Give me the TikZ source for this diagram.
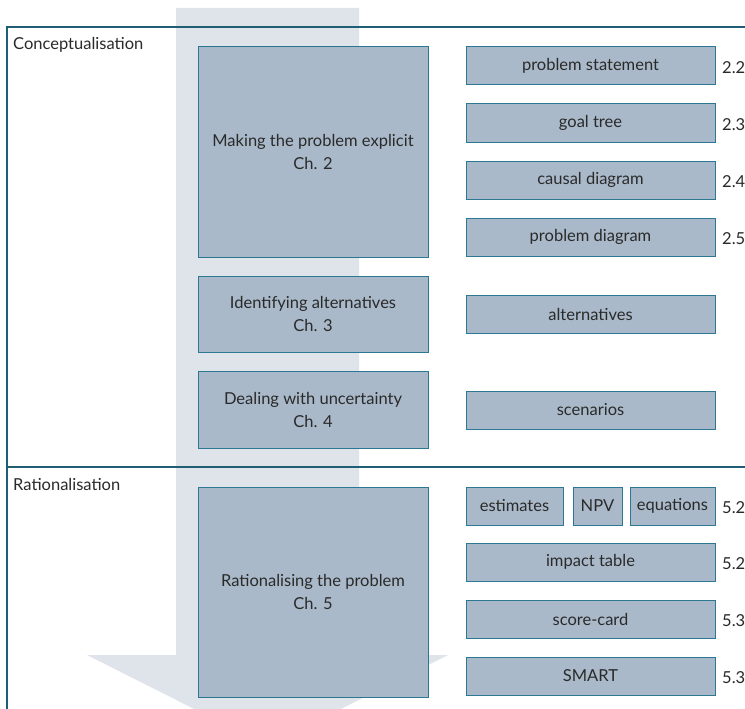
\documentclass[tikz,border=0pt]{standalone}
\usepackage{fontspec}
\setmainfont{Lato}
\usetikzlibrary{positioning}
\definecolor{boxfill}{HTML}{A9B9C9}
\definecolor{boxline}{HTML}{2C7893}
\definecolor{ruleline}{HTML}{1F5F75}
\definecolor{flow}{HTML}{DFE4EB}
\definecolor{ink}{HTML}{2A2A2A}
\tikzstyle{stage} = [rectangle, draw=boxline, fill=boxfill, line width=1pt, minimum width=230pt, align=center, text=ink, font=\fontsize{16.5}{23}\selectfont, inner sep=0pt, outer sep=0pt, anchor=north west]
\tikzstyle{result} = [rectangle, draw=boxline, fill=boxfill, line width=1pt, minimum width=249pt, minimum height=38pt, text=ink, font=\fontsize{16.5}{20}\selectfont, inner sep=0pt, outer sep=0pt]
\tikzstyle{secno} = [text=ink, font=\fontsize{16.5}{20}\selectfont, inner sep=0pt, right=7pt, yshift=-2pt]
\tikzstyle{phase} = [text=ink, font=\fontsize{16.5}{20}\selectfont, inner sep=0pt, anchor=base west]
\tikzstyle{rule} = [ruleline, line width=1.4pt]

\begin{document}
\begin{tikzpicture}[x=1pt, y=-1pt, node distance=19pt]
\useasboundingbox[fill=white] (0,0) rectangle (745,709);

% Flow arrow in the background
\begin{scope}
\clip (0,0) rectangle (745,709);
\fill[flow] (176,8) -- (359,8) -- (359,655) -- (448,655) -- (267.5,746)
  -- (87,655) -- (176,655) -- cycle;
\end{scope}

% Phase frame
\coordinate (topleft) at (7,27);
\coordinate (topright) at (745,27);
\coordinate (midleft) at (7,467);
\coordinate (midright) at (745,467);
\coordinate (bottomleft) at (7,709);
\draw[rule] (topright) -- (topleft) -- (bottomleft);
\draw[rule] (midleft) -- (midright);
\node (concept) [phase] at (13,50) {Conceptualisation};
\node (ration) [phase] at (13,490) {Rationalisation};

% Chapters
\node (explicit) [stage, minimum height=210pt] at (198,47) {Making the problem explicit\\Ch. 2};
\node (altern) [stage, minimum height=76pt] at (198,276) {Identifying alternatives\\Ch. 3};
\node (uncert) [stage, minimum height=77pt] at (198,371) {Dealing with uncertainty\\Ch. 4};
\node (rational) [stage, minimum height=210pt] at (198,487) {Rationalising the problem\\Ch. 5};

% Products of conceptualisation
\node (statement) [result, anchor=north west] at (466,47) {problem statement};
\node (goaltree) [result, below=of statement] {goal tree};
\node (causal) [result, below=of goaltree] {causal diagram};
\node (probdiag) [result, below=of causal] {problem diagram};
\node (alts) [result, anchor=north west] at (466,295) {alternatives};
\node (scen) [result, anchor=north west] at (466,391) {scenarios};

\node [secno] at (statement.east) {2.2};
\node [secno] at (goaltree.east) {2.3};
\node [secno] at (causal.east) {2.4};
\node [secno] at (probdiag.east) {2.5};

% Products of rationalisation
\node (estim) [result, minimum width=97pt, anchor=north west] at (466,487) {estimates};
\node (npv) [result, minimum width=49pt, right=10pt of estim] {NPV};
\node (equat) [result, minimum width=85pt, right=8pt of npv] {equations};
\node (impact) [result, anchor=north west] at (466,543) {impact table};
\node (score) [result, below=of impact] {score-card};
\node (smart) [result, below=of score] {SMART};

\node [secno] at (equat.east) {5.2};
\node [secno] at (impact.east) {5.2};
\node [secno] at (score.east) {5.3};
\node [secno] at (smart.east) {5.3};

\end{tikzpicture}
\end{document}
